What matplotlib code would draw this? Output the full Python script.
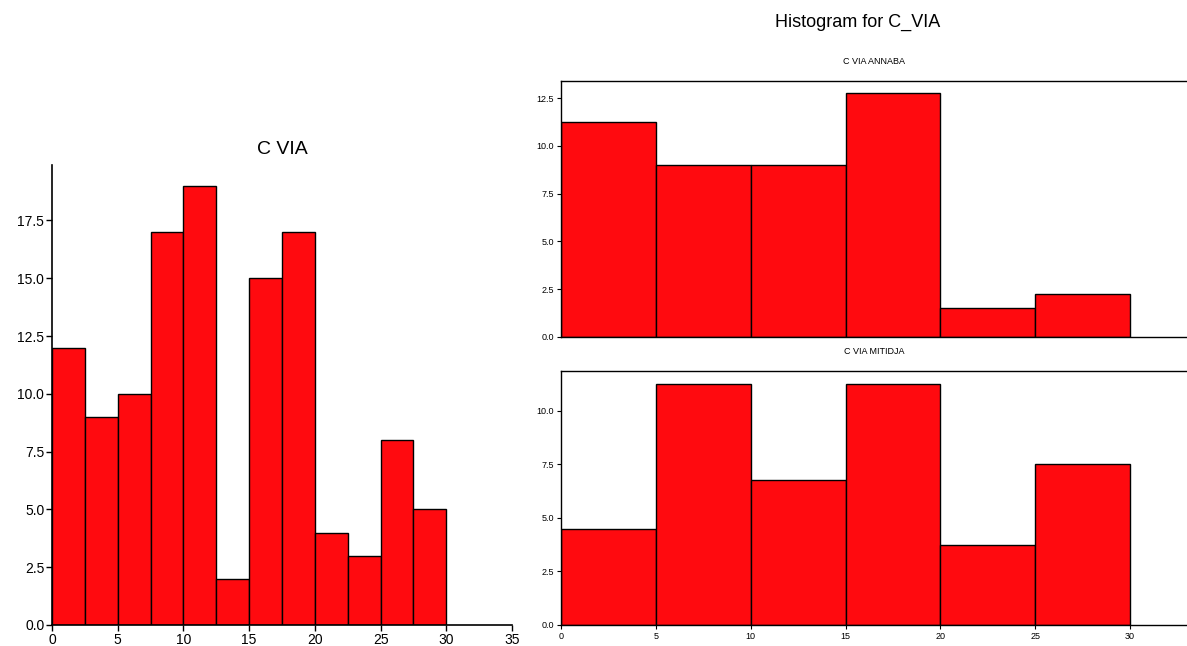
import matplotlib
matplotlib.use("Agg")
import matplotlib.pyplot as plt
import numpy as np

plt.rcParams['font.family'] = ['Liberation Sans', 'DejaVu Sans']

# ---- data ----
all_edges = [0, 2.5, 5, 7.5, 10, 12.5, 15, 17.5, 20, 22.5, 25, 27.5]
all_counts = [12, 9, 10, 17, 19, 2, 15, 17, 4, 3, 8, 5]
all_width = 2.5

group_edges = [0, 5, 10, 15, 20, 25]
annaba_vals = [11.25, 9.0, 9.0, 12.75, 1.5, 2.25]
mitidja_vals = [4.5, 11.25, 6.75, 11.25, 3.75, 7.5]
group_width = 5

main_title = "Histogram for C_VIA"
left_title = "C VIA"
annaba_title = "C VIA ANNABA"
mitidja_title = "C VIA MITIDJA"

left_yticks = [0, 2.5, 5, 7.5, 10, 12.5, 15, 17.5]
left_xticks = [0, 5, 10, 15, 20, 25, 30, 35]
annaba_yticks = [0, 2.5, 5, 7.5, 10, 12.5]
mitidja_yticks = [0, 2.5, 5, 7.5, 10]
right_xticks = [0, 5, 10, 15, 20, 25, 30]

RED = "#FF0A0F"
W, H = 1187, 646
fig = plt.figure(figsize=(W / 100, H / 100), dpi=100)

def px(l, t, r, b):
    return [l / W, (H - b) / H, (r - l) / W, (b - t) / H]

# ---- left panel ----
axL = fig.add_axes(px(52, 165, 512, 625))
axL.bar(all_edges, all_counts, width=all_width, align='edge',
        color=RED, edgecolor='black', linewidth=1.0)
axL.set_xlim(0, 35)
axL.set_ylim(0, 19.9)
axL.set_yticks(left_yticks)
axL.set_yticklabels([f"{v:.1f}" for v in left_yticks])
axL.set_xticks(left_xticks)
axL.spines['top'].set_visible(False)
axL.spines['right'].set_visible(False)
for s in ('left', 'bottom'):
    axL.spines[s].set_linewidth(1.2)
axL.tick_params(axis='both', labelsize=10, length=4, width=1, direction='out', pad=1.5)
axL.set_title(left_title, fontsize=14, pad=8)

# ---- right panels ----
def right_panel(rect, vals, yticks, ylim_top, title, show_x):
    ax = fig.add_axes(rect)
    ax.bar(group_edges, vals, width=group_width, align='edge',
           color=RED, edgecolor='black', linewidth=1.0)
    ax.set_xlim(0, 33)
    ax.set_ylim(0, ylim_top)
    ax.set_yticks(yticks)
    ax.set_yticklabels([f"{v:.1f}" for v in yticks])
    ax.spines['right'].set_visible(False)
    for s in ('left', 'bottom', 'top'):
        ax.spines[s].set_linewidth(1.0)
    ax.tick_params(axis='both', labelsize=6.5, length=3, width=0.8, direction='out', pad=2)
    if show_x:
        ax.set_xticks(right_xticks)
    else:
        ax.set_xticks([])
    ax.set_title(title, fontsize=6.5, pad=12)
    return ax

axA = right_panel(px(561, 81, 1187, 337), annaba_vals, annaba_yticks, 13.4,
                  annaba_title, False)
axM = right_panel(px(561, 371, 1187, 625), mitidja_vals, mitidja_yticks, 11.85,
                  mitidja_title, True)

fig.text(858 / W, 1 - 22 / H, main_title, ha='center', va='center', fontsize=13)

fig.savefig("out.png", dpi=100)
